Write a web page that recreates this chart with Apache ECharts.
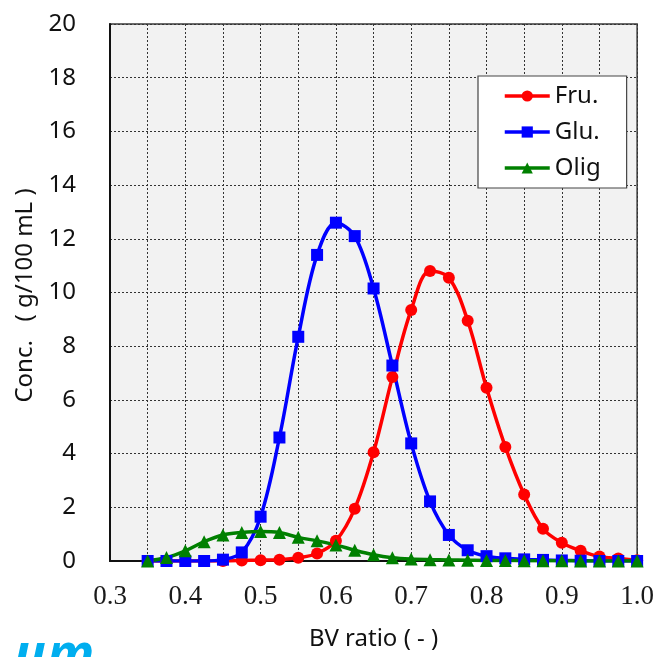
<!DOCTYPE html>
<html>
<head>
<meta charset="utf-8">
<script src="https://cdn.jsdelivr.net/npm/echarts@6/dist/echarts.min.js"></script>
<style>
  html, body { margin: 0; padding: 0; background: #ffffff; }
  #chart { width: 657px; height: 657px; }
</style>
</head>
<body>
<div id="chart"></div>
<script>
// BV ratio sample points
const bvRatio = [0.35, 0.375, 0.4, 0.425, 0.45, 0.475, 0.5, 0.525, 0.55, 0.575,
                 0.6, 0.625, 0.65, 0.675, 0.7, 0.725, 0.75, 0.775, 0.8, 0.825,
                 0.85, 0.875, 0.9, 0.925, 0.95, 0.975, 1.0];

// Concentrations (g/100 mL)
const fru  = [0, 0, 0, 0, 0, 0.02, 0.03, 0.05, 0.12, 0.28,
              0.75, 1.95, 4.05, 6.85, 9.35, 10.8, 10.55, 8.95, 6.45, 4.25,
              2.48, 1.2, 0.68, 0.38, 0.17, 0.09, 0.03];
const glu  = [0, 0, 0, 0, 0.05, 0.32, 1.65, 4.6, 8.35, 11.4,
              12.6, 12.1, 10.15, 7.28, 4.38, 2.22, 0.97, 0.4, 0.18, 0.1,
              0.06, 0.04, 0.02, 0.01, 0, 0, 0];
const olig = [0, 0.13, 0.38, 0.72, 0.97, 1.06, 1.1, 1.06, 0.88, 0.75,
              0.6, 0.4, 0.23, 0.12, 0.07, 0.05, 0.04, 0.03, 0.02, 0.02,
              0.01, 0.01, 0.01, 0, 0, 0, 0];

const seriesNames = ['Fru.', 'Glu.', 'Olig'];
const xTickLabels = ['0.3', '0.4', '0.5', '0.6', '0.7', '0.8', '0.9', '1.0'];

const pairs = arr => bvRatio.map((x, i) => [x, arr[i]]);

const sans = '"Noto Sans", "Open Sans", sans-serif';
const serif = '"Liberation Serif", "DejaVu Serif", serif';

function lineSeries(name, data, color, symbol, size) {
  return {
    name: name,
    type: 'line',
    data: pairs(data),
    smooth: 0.35,
    symbol: symbol,
    symbolSize: size,
    showSymbol: true,
    lineStyle: { color: color, width: 3.5 },
    itemStyle: { color: color },
    emphasis: { disabled: true },
    animation: false
  };
}

const chart = echarts.init(document.getElementById('chart'));
chart.setOption({
  animation: false,
  grid: {
    left: 110, right: 18, top: 24, bottom: 96,
    show: true,
    backgroundColor: '#f2f2f2',
    borderColor: '#3a3a3a',
    borderWidth: 1.5
  },
  legend: {
    data: seriesNames,
    orient: 'vertical',
    left: 478, top: 76,
    backgroundColor: '#ffffff',
    borderColor: '#444444',
    borderWidth: 1.2,
    padding: [8, 26, 8, 25],
    itemWidth: 45,
    itemHeight: 14,
    itemGap: 12,
    lineStyle: { width: 3.5 },
    textStyle: { fontFamily: sans, fontSize: 24, color: '#111111' }
  },
  xAxis: {
    type: 'value',
    min: 0.3, max: 1.0, interval: 0.05,
    name: 'BV ratio ( - )',
    nameLocation: 'middle',
    nameGap: 66,
    nameTextStyle: { fontFamily: sans, fontSize: 24, color: '#111111' },
    axisLine: { show: true, onZero: false, lineStyle: { color: '#111111', width: 2 } },
    axisTick: { show: false },
    axisLabel: {
      margin: 22,
      fontFamily: serif, fontSize: 27, color: '#1a1a1a',
      formatter: function (v) {
        const s = v.toFixed(1);
        return (Math.abs(v * 10 - Math.round(v * 10)) < 1e-6 && xTickLabels.includes(s)) ? s : '';
      }
    },
    splitLine: { show: true, lineStyle: { color: '#333333', width: 1, type: [2, 2] } }
  },
  yAxis: {
    type: 'value',
    min: 0, max: 20, interval: 2,
    name: 'Conc.   ( g/100 mL )',
    nameLocation: 'middle',
    nameGap: 73,
    nameTextStyle: { fontFamily: sans, fontSize: 24, color: '#111111', padding: [0, 0, 0, -6] },
    axisLine: { show: true, lineStyle: { color: '#111111', width: 2 } },
    axisTick: { show: false },
    axisLabel: { margin: 34, fontFamily: sans, fontSize: 24, color: '#111111' },
    splitLine: { show: true, lineStyle: { color: '#333333', width: 1, type: [2, 2] } }
  },
  graphic: [{
    type: 'text',
    left: 14, top: 630,
    silent: true,
    style: {
      text: 'μm',
      fill: '#00aeef',
      font: 'italic bold 52px "Noto Sans", sans-serif'
    }
  }],
  series: [
    lineSeries(seriesNames[0], fru, '#ff0000', 'circle', 12),
    lineSeries(seriesNames[1], glu, '#0000ff', 'rect', 12),
    lineSeries(seriesNames[2], olig, '#008000', 'triangle', 13)
  ]
});
</script>
</body>
</html>
